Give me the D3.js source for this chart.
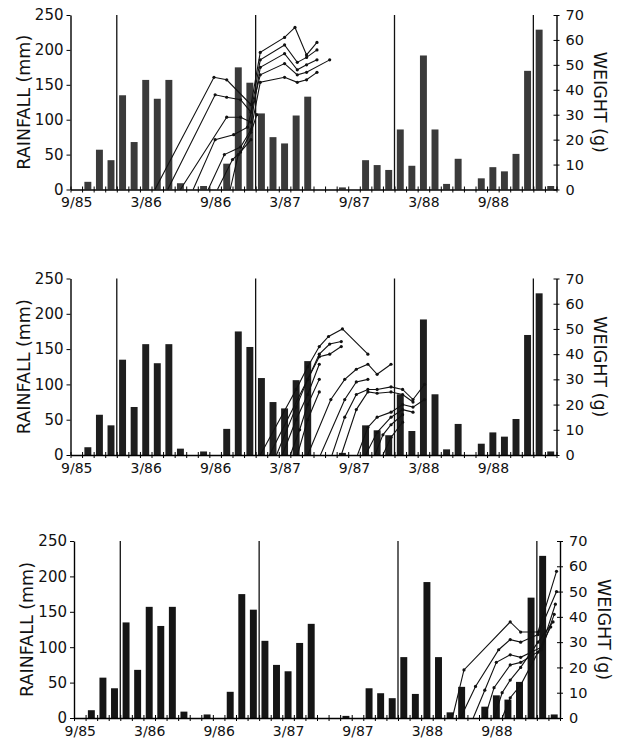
<!DOCTYPE html>
<html>
<head>
<meta charset="utf-8">
<script src="https://cdn.jsdelivr.net/npm/d3@7"></script>
<style>
body{margin:0;background:#fff;}
svg{display:block;}
</style>
</head>
<body>
<svg id="svg" width="619" height="742"></svg>
<script>
// monthly rainfall, 9/85 .. 2/89 (mm)
let rain=[0,11,57,42,135,68,157,130,157,9,0,5,0,37,175,153,109,75,66,106,133,0,0,3,0,42,35,28,86,34,192,86,8,44,0,16,32,26,51,170,229,5];
let monthLabels=["9/85","3/86","9/86","3/87","9/87","3/88","9/88"];
let labelMonths=[0,6,12,18,24,30,36];
let yearLines=[4,16,28,40];
let rainTicks=[0,50,100,150,200,250];
let weightTicks=[0,10,20,30,40,50,60,70];

// growth curves, [month, weight g]
let growth1=[
 [[7.3,0],[12.4,45],[13.5,44],[15.6,34],[16.4,55],[18.5,61],[19.4,65],[20.4,54],[21.3,59]],
 [[8.4,0],[12.5,38],[13.5,37],[14.7,36],[15.6,31],[16.4,52],[18.5,58],[19.6,51],[20.4,53],[21.3,56]],
 [[9.5,0],[13.5,29],[14.7,29],[15.6,27],[16.4,49],[18.5,54.5],[19.6,48],[20.4,50],[21.3,52]],
 [[10.6,0],[12.5,20],[14.1,22],[15.3,25],[16.4,46],[18.5,50.5],[19.6,46],[20.4,47],[22.4,52]],
 [[11.9,0],[13.3,14],[14.7,17],[15.6,24],[16.4,43],[18.5,45],[19.6,43],[20.4,44],[21.3,47]],
 [[12.7,0],[14.0,12],[14.7,15],[15.6,23],[16.1,30]],
 [[13.8,0],[14.5,14],[15.6,20]]
];
let growth2=[
 [[16.4,0],[19.5,26],[20.5,35],[21.5,43],[22.3,47],[23.5,50],[25.7,40]],
 [[17.2,0],[20.5,30],[21.5,39],[22.4,40],[23.4,43]],
 [[17.8,0],[19.5,19],[20.5,30],[21.5,40],[22.4,44],[23.4,45]],
 [[18.3,0],[19.5,14],[20.5,24],[21.5,36]],
 [[19.0,0],[19.8,10],[20.5,20],[21.5,30]],
 [[19.6,0],[20.5,14],[21.5,25]],
 [[20.5,0],[22.5,22],[23.7,30],[24.7,34],[25.7,36],[26.5,32],[27.7,36]],
 [[21.6,0],[23.7,22],[24.7,29],[25.7,30]],
 [[22.6,0],[23.7,15],[24.7,24],[25.7,26],[26.5,26],[27.7,27],[28.7,26],[29.6,22],[30.6,28]],
 [[23.4,0],[24.7,18],[25.7,25],[26.5,24.5],[27.7,25],[28.7,24],[29.6,21]],
 [[24.8,0],[25.7,11],[26.5,15],[27.7,17],[28.7,20],[29.6,19],[30.6,22]],
 [[25.5,0],[26.5,9],[27.7,15],[28.7,18],[29.6,17]],
 [[26.3,0],[27.0,8],[27.7,12],[28.7,16]],
 [[27.0,0],[27.7,7],[28.7,13]]
];
let growth3=[
 [[32.7,0],[33.7,19],[37.7,38],[38.6,34],[40.1,34],[41.7,58]],
 [[33.4,0],[34.7,12.5],[36.7,27],[37.7,31],[38.6,30],[40.1,33],[41.7,50]],
 [[34.5,0],[35.5,11],[36.5,22],[37.7,25],[38.6,24],[40.4,28],[41.6,45]],
 [[35.5,0],[36.3,12],[37.7,21],[38.6,22],[40.4,27],[41.5,41]],
 [[36.3,0],[37.0,10],[37.7,15],[38.6,20],[40.1,30],[41.4,38]],
 [[37.0,0],[37.7,8],[38.6,13],[40.1,26],[41.2,36]]
];

let panels=[
 {top:15,bottom:189.5,left:70.5,growth:growth1,barFill:"#3a3a3a"},
 {top:278.5,bottom:455,left:70.5,growth:growth2,barFill:"#1e1e1e"},
 {top:541,bottom:718,left:74,growth:growth3,barFill:"#151515"}
];

const svg=d3.select("#svg");
const font="DejaVu Sans";

const drawPanel=function(p)
{
    let x=d3.scaleLinear().domain([0,42]).range([p.left,p.left+486]);
    let yL=d3.scaleLinear().domain([0,250]).range([p.bottom,p.top]);
    let yR=d3.scaleLinear().domain([0,70]).range([p.bottom,p.top]);
    let g=svg.append("g");
    let bw=(x(1)-x(0))*0.6;

    // bars
    g.selectAll("rect.bar").data(rain).enter().append("rect")
        .attr("x",(d,i)=>x(i+0.5)-bw/2).attr("width",bw)
        .attr("y",d=>yL(d)).attr("height",d=>yL(0)-yL(d))
        .attr("fill",p.barFill);

    // year lines
    g.selectAll("line.yr").data(yearLines).enter().append("line")
        .attr("x1",d=>x(d)).attr("x2",d=>x(d))
        .attr("y1",yL(0)).attr("y2",yL(250))
        .attr("stroke","#111").attr("stroke-width",1.3);

    // growth curves
    let line=d3.line().x(d=>x(d[0])).y(d=>yR(d[1]));
    p.growth.forEach(function(c)
    {
        g.append("path").attr("d",line(c)).attr("fill","none").attr("stroke","#111").attr("stroke-width",1.1);
        g.selectAll(null).data(c.slice(1)).enter().append("circle")
            .attr("cx",d=>x(d[0])).attr("cy",d=>yR(d[1])).attr("r",1.6).attr("fill","#111");
    });

    // left axis
    let ax=g.append("g").attr("transform","translate("+x(0)+",0)")
        .call(d3.axisLeft(yL).tickValues(rainTicks).tickSizeInner(4).tickSizeOuter(0).tickPadding(3));
    ax.select(".domain").attr("stroke-width",1.4);
    ax.selectAll("text").attr("font-family",font).attr("font-size",15).attr("fill","#111");

    // right axis
    let ar=g.append("g").attr("transform","translate("+x(42)+",0)")
        .call(d3.axisRight(yR).tickValues(weightTicks).tickSizeInner(3).tickSizeOuter(0).tickPadding(6));
    ar.selectAll(".tick line").attr("x1",-3);
    ar.select(".domain").attr("stroke-width",1.4);
    ar.selectAll("text").attr("font-family",font).attr("font-size",14.5).attr("fill","#111");

    // bottom axis, month ticks
    let ab=g.append("g").attr("transform","translate(0,"+yL(0)+")")
        .call(d3.axisBottom(x).tickValues(d3.range(0,43)).tickFormat("").tickSizeInner(3).tickSizeOuter(0));
    ab.selectAll(".tick line").attr("y1",-3);
    ab.select(".domain").attr("stroke-width",1.5);

    let al=g.append("g").attr("transform","translate(0,"+yL(0)+")")
        .call(d3.axisBottom(x).tickValues(labelMonths.map(m=>m+0.5)).tickFormat((d,i)=>monthLabels[i]).tickSize(0).tickPadding(8));
    al.select(".domain").remove();
    al.selectAll("text").attr("font-family",font).attr("font-size",14).attr("fill","#111");

    let cy=(p.top+p.bottom)/2;
    g.append("text").attr("transform","translate("+(p.left-47)+","+cy+") rotate(-90)")
        .attr("text-anchor","middle").attr("dy","0.36em")
        .style("font-family",font).style("font-size","17.5px").style("fill","#111").text("RAINFALL (mm)");
    g.append("text").attr("transform","translate("+(p.left+530)+","+cy+") rotate(90)")
        .attr("text-anchor","middle").attr("dy","0.36em")
        .style("font-family",font).style("font-size","17.5px").style("fill","#111").text("WEIGHT (g)");
}

panels.forEach(drawPanel);
</script>
</body>
</html>
